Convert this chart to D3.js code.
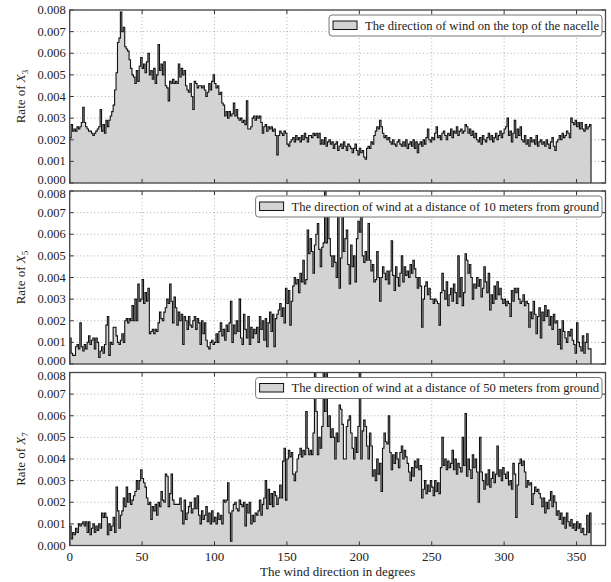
<!DOCTYPE html>
<html><head><meta charset="utf-8">
<script src="https://cdn.jsdelivr.net/npm/d3@7"></script>
<style>
html,body{margin:0;padding:0;background:#fff;}
svg{display:block;font-family:"Liberation Serif","DejaVu Serif",serif;}
</style></head>
<body><svg id="chart" width="611" height="582"></svg>
<script>
// ---- Data (rates, in units of 1e-3, one value per 1-degree bin from 0 to 360) ----
const binStartDeg = d3.range(0, 360, 1);
const valueUnit = 1e-3;

const rateX3 = [
2.1,2.7,2.4,2.5,2.4,2.6,2.5,2.6,2.8,3.5,
2.8,2.6,2.5,2.4,2.4,2.3,2.2,2.3,2.4,2.5,
2.6,3.4,2.4,2.7,2.3,2.9,2.6,2.9,3.1,3.3,
3.6,4.3,5.1,6.5,6.7,7.9,7.0,7.2,6.3,6.2,
6.1,5.7,5.3,5.0,4.9,4.6,5.2,4.7,5.4,5.8,
5.3,5.5,5.1,5.6,6.0,5.0,5.2,4.8,5.3,4.6,
5.0,6.4,5.2,5.5,5.0,5.6,4.5,4.4,3.8,4.7,
4.6,4.8,4.6,4.7,4.6,5.5,4.9,5.3,5.0,5.2,
4.5,4.3,4.2,4.6,4.0,3.4,4.7,4.6,4.4,4.5,
4.5,4.4,4.5,4.3,4.0,4.2,4.6,4.3,4.7,5.0,
4.6,4.4,4.5,4.1,4.2,3.7,3.6,3.1,3.3,3.0,
3.3,3.1,3.2,3.7,3.1,3.4,3.0,2.9,3.0,2.8,
2.9,2.7,3.8,2.5,2.5,2.6,3.0,3.1,2.9,3.1,
3.0,3.1,2.8,2.3,2.6,2.7,2.4,2.6,2.5,2.6,
2.4,2.5,2.2,1.3,2.2,2.4,2.3,2.2,2.4,2.3,
1.8,1.7,1.9,2.0,2.1,1.9,2.2,2.0,2.1,1.9,
2.2,2.0,2.3,2.1,1.9,2.2,2.2,2.1,2.3,2.2,
2.3,2.1,2.3,1.8,2.0,1.8,2.1,1.7,1.9,2.0,
1.8,1.9,1.6,1.8,1.9,1.5,1.7,1.8,1.6,1.9,
1.7,1.5,1.8,1.7,1.6,1.4,1.6,1.8,1.5,1.3,
1.6,1.4,1.5,1.2,1.1,1.6,1.7,1.6,1.9,1.8,
2.2,2.4,2.6,2.5,2.9,2.6,2.3,2.1,2.2,2.0,
2.1,1.9,1.8,2.0,1.8,1.7,1.9,2.0,1.8,1.7,
1.9,1.7,2.0,1.6,1.8,1.9,1.7,2.0,1.6,1.9,
1.4,1.8,1.9,1.7,2.0,1.8,2.1,2.5,2.0,1.9,
2.1,2.0,2.3,2.6,2.1,2.2,2.0,2.3,2.4,2.2,
2.0,2.3,2.2,2.5,2.1,2.4,2.3,2.6,2.2,2.4,
2.5,2.3,2.4,2.7,2.6,2.3,2.5,2.2,2.4,2.1,
2.3,2.0,1.9,2.1,1.8,2.2,2.0,1.9,2.1,2.3,
2.0,2.2,1.9,2.1,2.3,2.0,2.2,2.4,2.1,2.3,
2.5,2.6,3.0,2.2,2.4,1.9,2.3,2.9,2.1,2.5,
2.2,2.6,2.0,1.9,2.2,1.8,2.0,1.7,2.1,1.9,
2.0,1.8,2.2,1.7,1.9,2.0,1.8,1.9,1.7,2.0,
1.8,1.6,1.9,2.1,1.7,1.5,1.9,2.0,2.2,2.0,
2.3,2.1,2.2,2.4,2.3,2.1,3.0,2.8,2.7,2.9,
2.6,2.8,2.5,2.8,2.5,2.4,2.7,2.5,2.6,2.7];

const rateX5 = [
1.2,0.5,0.4,0.4,0.8,0.9,0.7,1.9,0.8,0.6,
0.9,0.7,1.0,1.3,0.9,1.1,1.2,0.7,1.2,1.0,
0.3,0.6,0.8,0.5,0.9,1.8,2.2,0.4,1.0,0.9,
1.7,1.7,1.3,1.0,0.9,1.1,1.4,1.0,2.0,2.1,
1.9,2.1,2.0,2.7,2.0,3.0,2.0,3.7,2.9,3.0,
3.9,2.8,3.3,2.9,3.5,1.4,1.5,1.6,1.4,1.6,
1.5,1.9,2.4,2.1,2.0,2.4,2.6,3.0,2.8,3.7,
2.9,1.9,3.1,2.6,1.8,2.4,2.0,2.3,0.9,2.2,
2.0,1.6,2.2,1.8,1.7,2.0,2.2,1.6,2.1,1.9,
0.9,2.0,1.4,1.9,1.1,0.8,0.7,1.0,1.1,0.9,
1.0,1.4,1.0,1.5,1.9,1.3,1.6,1.1,1.8,1.5,
1.9,2.9,1.0,1.8,1.4,2.0,1.5,3.0,1.2,0.9,
2.3,1.6,1.2,2.2,0.9,1.7,1.2,1.6,1.4,1.7,
1.0,2.2,1.6,2.0,1.1,2.1,0.8,1.9,2.4,1.5,
2.3,0.8,2.1,2.3,2.5,2.8,2.2,2.6,1.9,3.5,
2.8,3.4,1.8,2.9,3.6,4.0,3.7,3.9,3.3,4.2,
3.8,4.8,3.7,3.9,6.2,5.1,5.8,5.2,4.2,5.5,
6.0,6.5,5.3,4.5,5.4,5.6,8.4,5.6,7.4,5.8,
5.0,4.5,5.0,4.7,4.0,6.8,3.5,4.9,7.2,5.2,
5.8,6.2,4.6,3.7,5.5,4.5,5.0,3.8,5.8,6.6,
6.1,7.7,5.0,4.7,5.2,4.8,6.5,4.8,4.3,4.6,
3.8,3.9,5.2,4.0,2.9,4.0,4.5,4.2,3.9,4.3,
3.7,4.3,5.7,4.1,3.4,4.5,4.0,3.6,4.2,5.0,
3.8,4.5,4.1,4.3,4.0,4.6,4.2,4.8,4.4,4.0,
3.5,4.0,3.6,1.7,3.0,3.6,3.8,3.2,3.5,3.0,
3.0,2.8,3.0,2.9,2.8,1.8,3.3,4.2,3.4,3.0,
3.8,2.7,3.2,3.5,2.9,3.7,3.3,2.8,5.0,3.1,
4.0,2.7,3.3,5.1,4.8,4.2,4.6,4.0,3.0,3.7,
3.5,4.0,3.6,3.9,3.1,3.5,4.5,3.8,3.3,4.2,
2.5,3.2,2.8,3.6,3.0,3.8,3.2,3.5,3.0,2.8,
3.0,2.7,2.9,2.8,2.2,3.4,2.9,3.5,3.3,3.5,
3.0,2.8,2.9,3.2,2.7,2.9,2.8,1.7,2.4,2.1,
2.9,2.3,1.4,2.2,2.6,1.2,2.4,2.0,2.7,2.2,
2.5,1.8,2.2,1.6,2.3,1.9,2.0,0.9,1.6,0.7,
2.0,1.5,1.2,1.0,1.5,1.3,1.6,1.1,0.9,0.5,
1.9,1.0,0.8,0.6,1.3,0.5,1.0,1.4,0.7,0.7];

const rateX7 = [
0.9,0.3,0.6,0.5,0.8,0.6,1.0,0.9,1.0,1.1,
0.9,1.1,0.6,1.1,0.5,0.8,1.0,0.6,0.9,0.7,
1.0,0.8,1.5,1.3,1.5,1.3,0.5,1.0,0.7,0.9,
1.3,0.6,2.7,1.6,0.8,1.4,1.6,2.2,1.8,2.7,
2.0,2.4,1.9,2.1,2.3,2.5,3.0,2.6,3.0,3.5,
3.1,2.9,2.7,2.2,1.9,2.0,1.2,1.8,1.6,1.9,
1.4,2.0,1.8,2.5,2.1,2.0,3.3,3.2,1.8,2.4,
3.3,2.1,1.9,1.9,1.9,1.9,2.2,1.6,1.0,2.1,
1.2,1.5,1.8,2.0,1.5,1.7,2.2,1.7,2.3,1.4,
1.0,1.6,1.2,1.4,1.8,1.1,1.5,1.0,1.6,1.1,
1.3,1.0,1.5,1.2,1.4,1.0,2.1,2.0,2.1,2.9,
1.5,0.2,1.6,1.9,2.0,1.7,1.6,2.1,1.9,1.8,
2.0,0.9,1.9,1.5,2.0,1.0,1.4,1.1,1.5,1.4,
1.6,2.1,1.4,1.9,2.2,3.0,1.7,2.6,1.9,2.4,
1.8,2.5,2.3,1.9,2.2,2.8,2.2,3.9,4.5,2.1,
4.0,4.4,4.1,4.3,3.3,3.0,3.4,4.0,4.2,4.5,
4.1,4.4,4.2,6.2,4.5,4.2,4.4,4.2,5.2,8.4,
6.2,4.2,5.0,4.5,5.5,8.6,6.2,8.4,5.5,6.0,
5.0,5.4,5.0,4.0,5.2,4.8,6.5,6.3,5.6,4.0,
4.0,5.5,5.8,6.0,5.2,4.5,4.0,5.0,4.3,5.5,
8.6,4.0,5.3,5.8,5.5,4.6,4.0,5.2,4.6,3.2,
3.5,3.0,4.0,3.3,3.8,2.5,4.5,5.2,4.8,4.7,
6.0,4.3,3.5,4.2,3.8,4.3,4.0,3.6,4.3,4.6,
4.0,4.4,4.1,3.8,3.4,3.0,3.6,3.2,3.9,3.6,
4.0,3.5,3.7,2.2,2.6,3.0,2.4,2.8,2.5,3.0,
2.7,2.3,3.0,2.5,2.9,2.4,3.6,5.0,3.7,4.0,
3.5,3.9,3.6,3.8,4.4,3.5,4.0,3.3,3.8,3.6,
3.4,5.0,3.7,6.1,3.2,4.0,3.5,3.1,4.2,3.6,
4.0,3.4,2.0,5.0,3.4,3.0,2.6,3.3,2.8,3.5,
2.7,3.1,3.4,2.9,3.3,4.6,3.2,3.5,3.0,3.6,
3.3,3.1,3.4,2.8,3.0,2.6,3.8,3.3,1.3,2.8,
3.8,4.0,3.7,3.9,3.4,2.7,3.0,2.8,2.9,1.9,
2.4,2.7,2.5,2.6,2.4,2.2,1.8,2.2,1.5,2.0,
1.7,2.1,2.5,1.8,2.3,2.0,1.4,1.6,1.2,1.5,
1.0,1.3,0.8,1.5,1.1,0.9,1.2,0.8,1.0,0.7,
1.1,0.8,1.0,0.6,0.8,0.5,0.5,1.4,0.6,1.5];

const panels = [
  {values: rateX3, sub: "3", legend: "The direction of wind on the top of the nacelle"},
  {values: rateX5, sub: "5", legend: "The direction of wind at a distance of 10 meters from ground"},
  {values: rateX7, sub: "7", legend: "The direction of wind at a distance of 50 meters from ground"}
];
const xTicks = [0, 50, 100, 150, 200, 250, 300, 350];
const yTicks = [0, 0.001, 0.002, 0.003, 0.004, 0.005, 0.006, 0.007, 0.008];
const xLabel = "The wind direction in degrees";

// ---- Layout ----
const svg = d3.select("#chart");
const left = 69.7, right = 605.5;
const panelTops = [10, 191, 372.5];
const panelH = 173;
const x = d3.scaleLinear().domain([0, 370]).range([left, right]);

panels.forEach((p, i) => {
  const top = panelTops[i], bottom = top + panelH;
  const y = d3.scaleLinear().domain([0, 0.008]).range([bottom, top]);
  const g = svg.append("g");
  const clipId = "clip" + i;
  svg.append("clipPath").attr("id", clipId).append("rect")
    .attr("x", left).attr("y", top).attr("width", right - left).attr("height", panelH);

  // grid
  g.selectAll(".gx").data(xTicks).join("line")
    .attr("x1", d => x(d)).attr("x2", d => x(d)).attr("y1", top).attr("y2", bottom)
    .attr("stroke", "#9a9a9a").attr("stroke-width", 0.8).attr("stroke-dasharray", "1,2.5");
  g.selectAll(".gy").data(yTicks).join("line")
    .attr("x1", left).attr("x2", right).attr("y1", d => y(d)).attr("y2", d => y(d))
    .attr("stroke", "#9a9a9a").attr("stroke-width", 0.8).attr("stroke-dasharray", "1,2.5");

  // histogram
  const pts = [[0, 0]];
  binStartDeg.forEach((d, k) => pts.push([d, p.values[k] * valueUnit]));
  pts.push([binStartDeg[binStartDeg.length - 1] + 1, p.values[p.values.length - 1] * valueUnit]);
  pts.push([binStartDeg[binStartDeg.length - 1] + 1, 0]);
  const area = d3.area().x(d => x(d[0])).y0(y(0)).y1(d => y(d[1])).curve(d3.curveStepAfter);
  const line = d3.line().x(d => x(d[0])).y(d => y(d[1])).curve(d3.curveStepAfter);
  const hg = g.append("g").attr("clip-path", `url(#${clipId})`);
  hg.append("path").attr("d", area(pts)).attr("fill", "#d3d3d3");
  hg.append("path").attr("d", line(pts)).attr("fill", "none").attr("stroke", "#111").attr("stroke-width", 1.1);

  // ticks (inward, all sides)
  const tl = 4;
  g.selectAll(".tb").data(xTicks).join("line")
    .attr("x1", d => x(d)).attr("x2", d => x(d)).attr("y1", bottom).attr("y2", bottom - tl)
    .attr("stroke", "#333").attr("stroke-width", 1);
  g.selectAll(".tt").data(xTicks).join("line")
    .attr("x1", d => x(d)).attr("x2", d => x(d)).attr("y1", top).attr("y2", top + tl)
    .attr("stroke", "#333").attr("stroke-width", 1);
  g.selectAll(".tlft").data(yTicks).join("line")
    .attr("x1", left).attr("x2", left + tl).attr("y1", d => y(d)).attr("y2", d => y(d))
    .attr("stroke", "#333").attr("stroke-width", 1);
  g.selectAll(".trt").data(yTicks).join("line")
    .attr("x1", right).attr("x2", right - tl).attr("y1", d => y(d)).attr("y2", d => y(d))
    .attr("stroke", "#333").attr("stroke-width", 1);

  // frame
  g.append("rect").attr("x", left).attr("y", top).attr("width", right - left).attr("height", panelH)
    .attr("fill", "none").attr("stroke", "#444").attr("stroke-width", 1.3);

  // y tick labels (end labels nudged apart so stacked panels don't collide)
  const last = yTicks.length - 1;
  g.selectAll(".yl").data(yTicks).join("text")
    .attr("x", left - 4)
    .attr("y", (d, k) => y(d) + (k === 0 && i < panels.length - 1 ? -3 : 0) + (k === last && i > 0 ? 3 : 0))
    .attr("dy", "0.32em")
    .attr("text-anchor", "end").attr("font-size", 12.5).attr("fill", "#222")
    .text(d => d3.format(".3f")(d));

  // y axis label
  const yl = g.append("text")
    .attr("transform", `translate(25,${(top + bottom) / 2}) rotate(-90)`)
    .attr("text-anchor", "middle").attr("font-size", 13).attr("fill", "#222");
  yl.append("tspan").text("Rate of ");
  yl.append("tspan").attr("font-style", "italic").text("X");
  yl.append("tspan").attr("font-size", 9).attr("dy", 3).text(p.sub);

  // legend
  const lg = g.append("g");
  const txt = lg.append("text").attr("font-size", 12.6).attr("fill", "#222").text(p.legend);
  const tw = txt.node().getComputedTextLength();
  const boxR = right - 3.5, boxT = top + 5, boxH = 21;
  const boxL = boxR - (tw + 4 + 24 + 8 + 3);
  lg.insert("rect", "text").attr("x", boxL).attr("y", boxT).attr("width", boxR - boxL).attr("height", boxH)
    .attr("rx", 3).attr("fill", "#fff").attr("stroke", "#777").attr("stroke-width", 1);
  lg.append("rect").attr("x", boxL + 4).attr("y", boxT + 6).attr("width", 24).attr("height", 8.5)
    .attr("fill", "#d3d3d3").attr("stroke", "#111").attr("stroke-width", 1);
  txt.attr("x", boxL + 36).attr("y", boxT + boxH / 2).attr("dy", "0.35em");

  // x tick labels on bottom panel only
  if (i === panels.length - 1) {
    g.selectAll(".xl").data(xTicks).join("text")
      .attr("x", d => x(d)).attr("y", bottom + 15).attr("text-anchor", "middle")
      .attr("font-size", 13).attr("fill", "#222").text(d => d);
    g.append("text").attr("x", (left + right) / 2).attr("y", bottom + 30)
      .attr("text-anchor", "middle").attr("font-size", 13).attr("fill", "#222").text(xLabel);
  }
});
</script></body></html>
